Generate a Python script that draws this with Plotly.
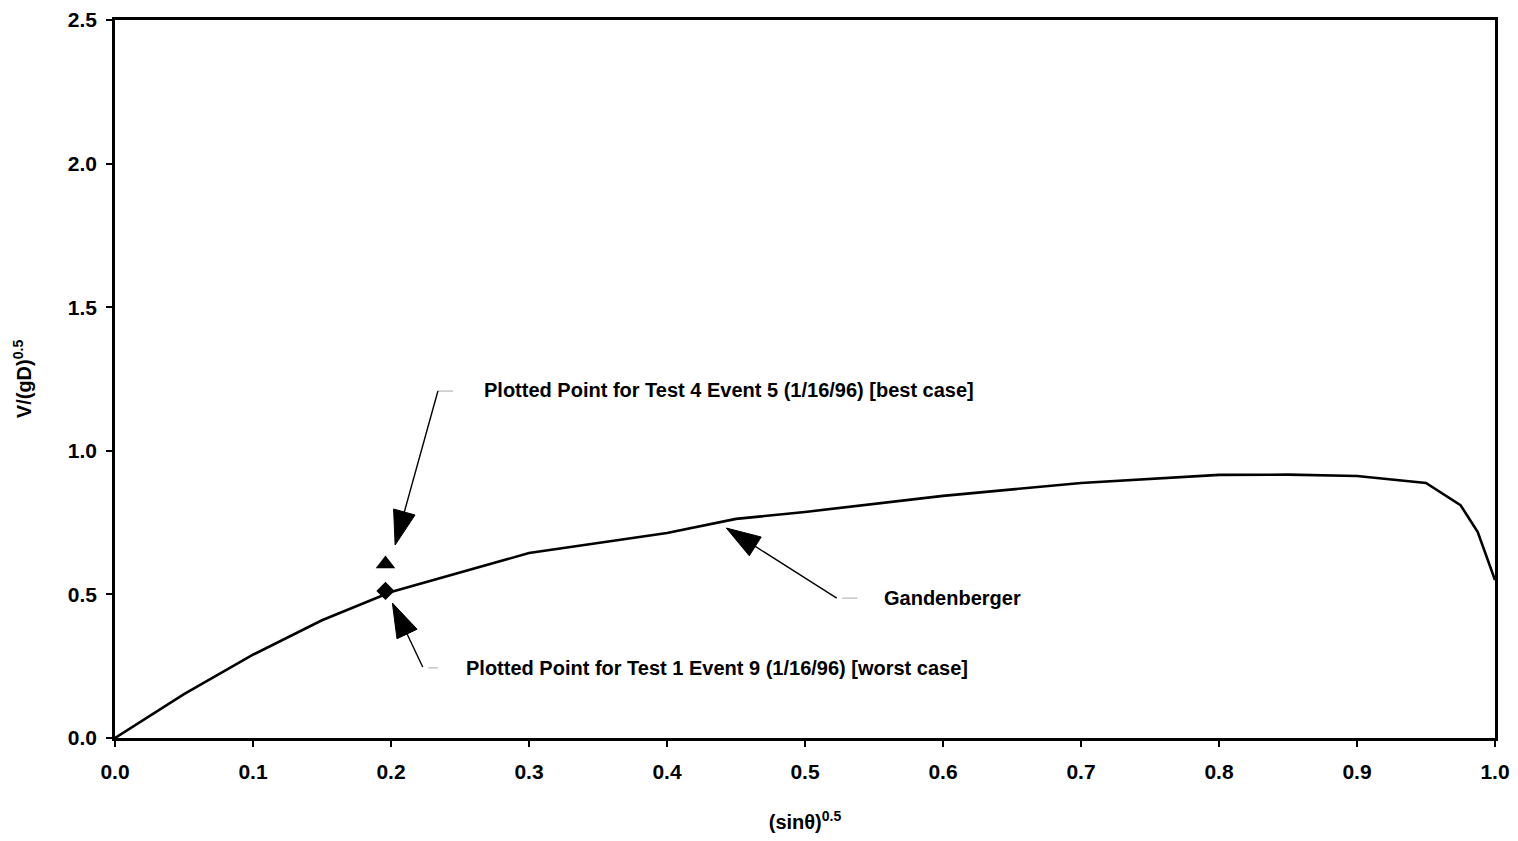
import plotly.graph_objects as go

# Gandenberger curve
curve_x = [0.0, 0.05, 0.1, 0.15, 0.2, 0.3, 0.4, 0.45, 0.5, 0.6, 0.7, 0.8, 0.85, 0.9, 0.95, 0.975, 0.9875, 1.0]
curve_y = [0.0, 0.153, 0.29, 0.41, 0.508, 0.644, 0.714, 0.763, 0.787, 0.843, 0.888, 0.916, 0.917, 0.912, 0.888, 0.811, 0.717, 0.55]

# plotted test points
best_x = [0.196]
best_y = [0.606]
worst_x = [0.196]
worst_y = [0.512]

# annotation texts
labels = [
    "Plotted Point for Test 4 Event 5 (1/16/96) [best case]",
    "Plotted Point for Test 1 Event 9 (1/16/96) [worst case]",
    "Gandenberger",
]
label_x = [0.266, 0.253, 0.556]
label_y = [1.212, 0.244, 0.487]

# arrows: tail -> tip
arrow_tail_x = [0.234, 0.223, 0.523]
arrow_tail_y = [1.208, 0.247, 0.487]
arrow_tip_x = [0.203, 0.201, 0.443]
arrow_tip_y = [0.672, 0.470, 0.731]

# short grey leader dashes between arrow tail and label
leader_x0 = [0.234, 0.227, 0.527]
leader_x1 = [0.245, 0.234, 0.538]
leader_y = [1.208, 0.244, 0.487]

x_ticks = [0.0, 0.1, 0.2, 0.3, 0.4, 0.5, 0.6, 0.7, 0.8, 0.9, 1.0]
y_ticks = [0.0, 0.5, 1.0, 1.5, 2.0, 2.5]

FONT = "Liberation Sans, Arial, sans-serif"

fig = go.Figure()

fig.add_trace(go.Scatter(x=curve_x, y=curve_y, mode="lines",
                         line=dict(color="black", width=2.6), showlegend=False, hoverinfo="skip"))

for i in range(len(leader_y)):
    fig.add_trace(go.Scatter(x=[leader_x0[i], leader_x1[i]], y=[leader_y[i], leader_y[i]],
                             mode="lines", line=dict(color="#aaaaaa", width=1),
                             showlegend=False, hoverinfo="skip"))

for i in range(len(arrow_tip_x)):
    fig.add_trace(go.Scatter(x=[arrow_tail_x[i], arrow_tip_x[i]], y=[arrow_tail_y[i], arrow_tip_y[i]],
                             mode="lines+markers",
                             line=dict(color="black", width=1.4),
                             marker=dict(symbol="arrow", size=[0, 36], color="black", opacity=1,
                                         angleref="previous", line=dict(width=1, color="black")),
                             showlegend=False, hoverinfo="skip"))

fig.add_trace(go.Scatter(x=best_x, y=best_y, mode="markers",
                         marker=dict(symbol="triangle-up", size=17, color="black"),
                         showlegend=False))
fig.add_trace(go.Scatter(x=worst_x, y=worst_y, mode="markers",
                         marker=dict(symbol="diamond", size=14, color="black"),
                         showlegend=False))

for t, lx, ly in zip(labels, label_x, label_y):
    fig.add_annotation(x=lx, y=ly, xref="x", yref="y", text=t, showarrow=False,
                       xanchor="left", yanchor="middle",
                       font=dict(family=FONT, size=20, color="black", weight="bold"))

fig.update_layout(
    width=1502, height=825,
    margin=dict(l=107, r=15, t=12, b=95),
    plot_bgcolor="white", paper_bgcolor="white",
    font=dict(family=FONT, size=20, color="black", weight="bold"),
)

fig.update_xaxes(
    range=[0, 1.0], tickvals=x_ticks, ticktext=[f"{v:.1f}" for v in x_ticks],
    showgrid=False, zeroline=False, automargin=False,
    showline=True, linecolor="black", linewidth=2.5, mirror=True,
    ticks="outside", ticklen=6, tickwidth=1.5, tickcolor="black",
    ticklabelstandoff=7,
    tickfont=dict(family=FONT, size=21, color="black", weight="bold"),
    title=dict(text="(sinθ)<sup>0.5</sup>", standoff=38,
               font=dict(family=FONT, size=20, color="black", weight="bold")),
)
fig.update_yaxes(
    range=[0, 2.5], tickvals=y_ticks, ticktext=[f"{v:.1f}" for v in y_ticks],
    showgrid=False, zeroline=False, automargin=False,
    showline=True, linecolor="black", linewidth=2.5, mirror=True,
    ticks="outside", ticklen=6, tickwidth=1.5, tickcolor="black",
    ticklabelstandoff=5,
    tickfont=dict(family=FONT, size=21, color="black", weight="bold"),
    title=dict(text="V/(gD)<sup>0.5</sup>", standoff=31,
               font=dict(family=FONT, size=20, color="black", weight="bold")),
)

fig.write_html("out.html")
